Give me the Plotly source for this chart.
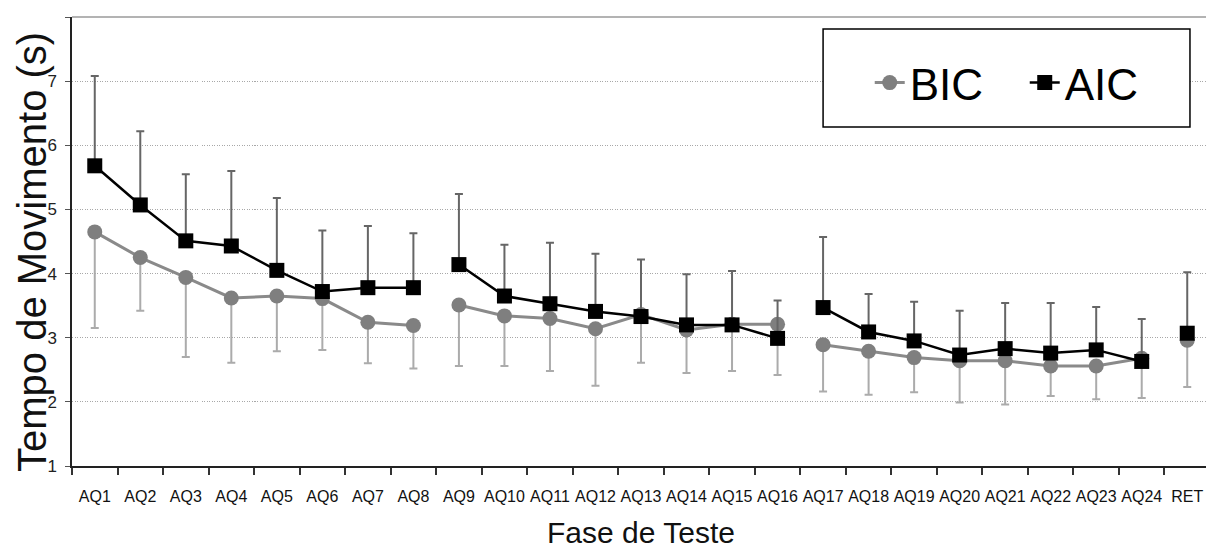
import plotly.graph_objects as go

categories = [f"AQ{i}" for i in range(1, 25)] + ["RET"]

bic_mean = [4.65, 4.25, 3.94, 3.62, 3.65, 3.61, 3.24, 3.19,
            3.51, 3.34, 3.30, 3.14, 3.36, 3.12, 3.21, 3.21,
            2.89, 2.79, 2.69, 2.64, 2.64, 2.56, 2.56, 2.68,
            2.96]
bic_sd = [1.50, 0.83, 1.24, 1.01, 0.86, 0.80, 0.64, 0.67,
          0.95, 0.78, 0.82, 0.89, 0.75, 0.67, 0.73, 0.79,
          0.73, 0.68, 0.54, 0.65, 0.68, 0.47, 0.52, 0.62,
          0.73]

aic_mean = [5.68, 5.07, 4.51, 4.43, 4.05, 3.72, 3.78, 3.78,
            4.14, 3.65, 3.53, 3.41, 3.33, 3.20, 3.20, 2.99,
            3.47, 3.09, 2.95, 2.73, 2.83, 2.76, 2.81, 2.63,
            3.07]
aic_sd = [1.40, 1.15, 1.04, 1.17, 1.13, 0.95, 0.96, 0.85,
          1.10, 0.80, 0.95, 0.90, 0.89, 0.79, 0.84, 0.59,
          1.10, 0.59, 0.61, 0.69, 0.71, 0.78, 0.67, 0.66,
          0.95]

segments = [(0, 8), (8, 16), (16, 24), (24, 25)]

FONT = "Liberation Sans, Arial, sans-serif"

fig = go.Figure()

for si, (a, b) in enumerate(segments):
    n = b - a
    fig.add_trace(go.Scatter(
        x=categories[a:b], y=bic_mean[a:b], mode="lines+markers",
        name="BIC", legendgroup="BIC", showlegend=(si == 0),
        line=dict(color="#8a8a8a", width=3),
        marker=dict(symbol="circle", size=15, color="#7f7f7f"),
        error_y=dict(type="data", symmetric=False, array=[0] * n,
                     arrayminus=bic_sd[a:b], color="#ababab",
                     thickness=2, width=4),
    ))

for si, (a, b) in enumerate(segments):
    n = b - a
    fig.add_trace(go.Scatter(
        x=categories[a:b], y=aic_mean[a:b], mode="lines+markers",
        name="AIC", legendgroup="AIC", showlegend=(si == 0),
        line=dict(color="#000000", width=2.5),
        marker=dict(symbol="square", size=15, color="#000000"),
        error_y=dict(type="data", symmetric=False, array=aic_sd[a:b],
                     arrayminus=[0] * n, color="#666666",
                     thickness=2, width=4),
    ))

# top border line at y = 8
fig.add_shape(type="line", xref="paper", yref="paper",
              x0=0, x1=1, y0=1, y1=1,
              line=dict(color="#9a9a9a", width=1.5), layer="below")

# legend frame
fig.add_shape(type="rect", xref="paper", yref="paper",
              x0=0.660, x1=0.9824, y0=0.755, y1=0.973,
              line=dict(color="black", width=1.5), fillcolor="white",
              layer="above")

# y-axis title
fig.add_annotation(text="Tempo de Movimento (s)", textangle=-90,
                   xref="paper", yref="paper", x=0, y=0.4766,
                   xanchor="center", yanchor="middle", xshift=-40,
                   showarrow=False,
                   font=dict(family=FONT, size=40, color="#111"))

fig.update_layout(
    width=1206, height=551,
    margin=dict(l=64, r=4, t=9, b=93, autoexpand=False),
    plot_bgcolor="white", paper_bgcolor="white",
    showlegend=True,
    legend=dict(orientation="h", x=0.701, xanchor="left",
                y=0.853, yanchor="middle", entrywidth=110,
                entrywidthmode="pixels",
                bgcolor="rgba(0,0,0,0)", borderwidth=0,
                font=dict(family=FONT, size=44, color="black"),
                itemclick=False),
    xaxis=dict(
        type="category", categoryorder="array", categoryarray=categories,
        range=[-0.5, 24.5],
        tickson="boundaries", ticks="outside", ticklen=7, tickwidth=1.5,
        tickcolor="#333", showline=True, linecolor="#222", linewidth=2,
        showgrid=False, ticklabelstandoff=15, tickangle=0, automargin=False,
        tickfont=dict(family=FONT, size=16, color="#111"),
        title=dict(text="Fase de Teste", standoff=18,
                   font=dict(family=FONT, size=30, color="#111")),
    ),
    yaxis=dict(
        range=[1, 8], dtick=1, ticks="outside", ticklen=5, tickwidth=1,
        tickcolor="#555", showline=True, linecolor="#222", linewidth=1.5,
        showgrid=True, gridcolor="#a8a8a8", griddash="1px,1.5px", gridwidth=1.3,
        zeroline=False, ticklabelstandoff=5, automargin=False,
        tickfont=dict(family=FONT, size=17, color="#222"),
    ),
)

fig.write_html("out.html")
